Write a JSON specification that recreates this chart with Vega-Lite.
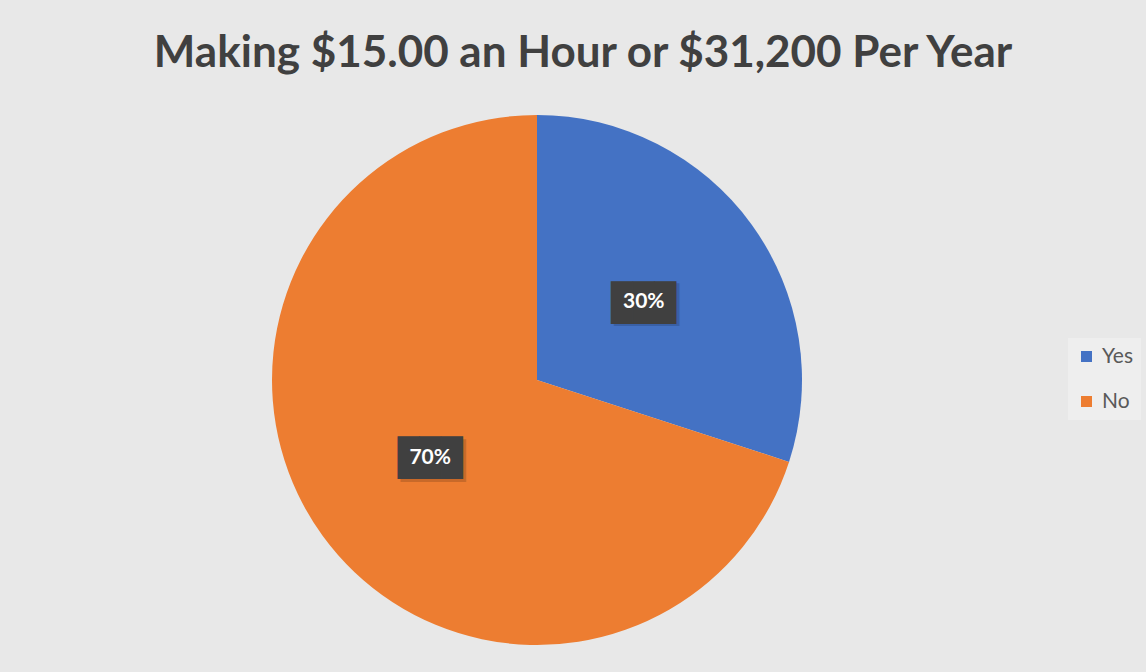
{
  "$schema": "https://vega.github.io/schema/vega-lite/v6.json",
  "width": 530,
  "height": 530,
  "autosize": {"type": "none"},
  "padding": {"left": 272, "top": 115, "right": 344, "bottom": 27},
  "background": "#e8e8e8",
  "view": {"stroke": null},
  "title": {
    "text": "Making $15.00 an Hour or $31,200 Per Year",
    "font": "Lato",
    "fontSize": 44,
    "fontWeight": "bold",
    "color": "#404040",
    "anchor": "middle",
    "frame": "group",
    "baseline": "alphabetic",
    "dx": 46,
    "offset": 4
  },
  "data": {
    "values": [
      {"answer": "Yes", "share": 30, "rank": 1, "label": "30%"},
      {"answer": "No", "share": 70, "rank": 2, "label": "70%"}
    ]
  },
  "encoding": {
    "theta": {"field": "share", "type": "quantitative", "stack": true},
    "order": {"field": "rank", "type": "quantitative"}
  },
  "layer": [
    {
      "mark": {"type": "arc", "outerRadius": 265},
      "encoding": {
        "color": {
          "field": "answer",
          "type": "nominal",
          "scale": {"domain": ["Yes", "No"], "range": ["#4472C4", "#ED7D31"]},
          "legend": {
            "title": null,
            "orient": "none",
            "legendX": 796,
            "legendY": 223,
            "symbolType": "square",
            "symbolSize": 121,
            "symbolStrokeWidth": 0,
            "labelFont": "Lato",
            "labelFontSize": 21,
            "labelColor": "#595959",
            "labelOffset": 5,
            "rowPadding": 23,
            "padding": 8,
            "fillColor": "#eeeeee"
          }
        }
      }
    },
    {
      "mark": {"type": "text", "radius": 132, "text": "███", "font": "DejaVu Sans Mono", "fontSize": 36, "baseline": "alphabetic", "color": "#000000", "opacity": 0.15, "dx": 3, "dy": 15}
    },
    {
      "mark": {"type": "text", "radius": 132, "text": "███", "font": "DejaVu Sans Mono", "fontSize": 36, "baseline": "alphabetic", "color": "#404040", "dy": 12.5}
    },
    {
      "mark": {"type": "text", "radius": 132, "font": "Lato", "fontSize": 21, "fontWeight": "bold", "color": "#ffffff", "baseline": "middle"},
      "encoding": {"text": {"field": "label", "type": "nominal"}}
    }
  ]
}
